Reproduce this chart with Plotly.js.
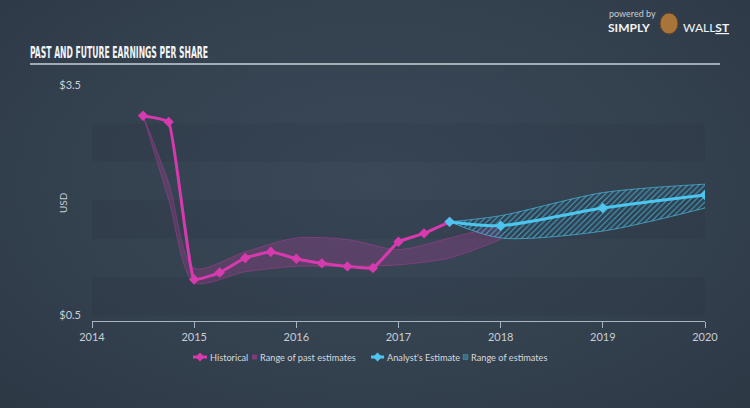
<!DOCTYPE html>
<html>
<head>
<meta charset="utf-8">
<script src="https://cdn.plot.ly/plotly-3.0.1.min.js"></script>
<style>
html,body{margin:0;padding:0;width:750px;height:408px;overflow:hidden;
background:radial-gradient(ellipse at 50% 45%, #3a4858 0%, #34414f 55%, #2d3845 100%);}
#chart{width:750px;height:408px;}
</style>
</head>
<body>
<div id="chart"></div>
<script>
// ---- data ----
const histX = [2014.5, 2014.75, 2015.0, 2015.25, 2015.5, 2015.75, 2016.0, 2016.25, 2016.5, 2016.75, 2017.0, 2017.25, 2017.5];
const histY = [3.10, 3.02, 0.97, 1.06, 1.25, 1.33, 1.24, 1.18, 1.14, 1.12, 1.46, 1.57, 1.72];

const pastRangeX = [2014.5, 2014.75, 2015.0, 2015.5, 2016.0, 2016.5, 2017.0, 2017.5, 2018.0];
const pastRangeHigh = [3.10, 2.23, 1.12, 1.33, 1.51, 1.49, 1.36, 1.51, 1.68];
const pastRangeLow  = [3.10, 2.01, 0.93, 1.07, 1.14, 1.14, 1.16, 1.25, 1.49];

const estX = [2017.5, 2018.0, 2019.0, 2020.0];
const estY = [1.72, 1.67, 1.90, 2.07];
const estHigh = [1.72, 1.80, 2.10, 2.21];
const estLow  = [1.72, 1.51, 1.60, 1.90];

const xTicks = [2014, 2015, 2016, 2017, 2018, 2019, 2020];
const yTickVals = [0.5, 3.5];
const yTickText = ['$0.5', '$3.5'];
const stripeBands = [[2.5, 3.0], [1.5, 2.0], [0.5, 1.0]];
const legendLabels = ['Historical', 'Range of past estimates', "Analyst's Estimate", 'Range of estimates'];

const pink = '#d63aae';
const cyan = '#4cc6ee';

const traces = [
  {x: pastRangeX, y: pastRangeLow, mode: 'lines', line: {color: 'rgba(214,58,174,0.45)', width: 0.8, shape: 'spline', smoothing: 0.8},
   showlegend: false, hoverinfo: 'skip'},
  {x: pastRangeX, y: pastRangeHigh, mode: 'lines', line: {color: 'rgba(214,58,174,0.45)', width: 0.8, shape: 'spline', smoothing: 0.8},
   fill: 'tonexty', fillcolor: 'rgba(214,58,174,0.22)', showlegend: false},
  {x: estX, y: estLow, mode: 'lines', line: {color: 'rgba(76,198,238,0.8)', width: 0.8, shape: 'spline', smoothing: 0.8},
   showlegend: false, hoverinfo: 'skip'},
  {x: estX, y: estHigh, mode: 'lines', line: {color: 'rgba(76,198,238,0.8)', width: 0.8, shape: 'spline', smoothing: 0.8},
   fill: 'tonexty', fillcolor: 'rgba(76,198,238,0.15)',
   fillpattern: {shape: '/', fgcolor: 'rgba(76,198,238,0.75)', bgcolor: 'rgba(40,70,90,0.25)', size: 4, solidity: 0.25},
   showlegend: false},
  {x: histX, y: histY, mode: 'lines+markers', name: legendLabels[0], showlegend: false,
   line: {color: pink, width: 3, shape: 'spline', smoothing: 0.3},
   marker: {symbol: 'diamond', size: 8, color: pink}},
  {x: estX, y: estY, mode: 'lines+markers', name: legendLabels[2], showlegend: false,
   line: {color: cyan, width: 3, shape: 'spline', smoothing: 0.8},
   marker: {symbol: 'diamond', size: 8, color: cyan}}
];

const plotL = 92, plotR = 705, plotT = 85, plotB = 321;
const pw = plotR - plotL, ph = plotB - plotT;
const px = v => (v - plotL) / pw;
const py = v => (plotB - v) / ph;

const shapes = stripeBands.map(b => ({
  type: 'rect', xref: 'x', yref: 'y', x0: xTicks[0], x1: xTicks[xTicks.length - 1], y0: b[0], y1: b[1],
  fillcolor: 'rgba(20,28,38,0.08)', line: {width: 0}, layer: 'below'
}));
shapes.push({type: 'line', xref: 'paper', yref: 'paper', x0: px(30), x1: px(720), y0: py(64), y1: py(64),
  line: {color: '#c9d0d8', width: 1.5}});
// logo head
shapes.push({type: 'circle', xref: 'paper', yref: 'paper', x0: px(660), x1: px(678), y0: py(34), y1: py(13),
  fillcolor: '#a8743a', line: {color: '#5e4128', width: 1}});

// custom legend (icons)
const legY = 357;
function diamond(cx, cy, r, color) {
  return {type: 'path', xref: 'paper', yref: 'paper',
    path: `M ${px(cx - r)} ${py(cy)} L ${px(cx)} ${py(cy - r)} L ${px(cx + r)} ${py(cy)} L ${px(cx)} ${py(cy + r)} Z`,
    fillcolor: color, line: {width: 0}};
}
shapes.push({type: 'line', xref: 'paper', yref: 'paper', x0: px(193), x1: px(207), y0: py(legY), y1: py(legY), line: {color: pink, width: 3}});
shapes.push(diamond(200, legY, 4.5, pink));
shapes.push({type: 'rect', xref: 'paper', yref: 'paper', x0: px(252), x1: px(257), y0: py(legY + 2.5), y1: py(legY - 2.5),
  fillcolor: 'rgba(214,58,174,0.45)', line: {width: 0}});
shapes.push({type: 'line', xref: 'paper', yref: 'paper', x0: px(371), x1: px(384), y0: py(legY), y1: py(legY), line: {color: cyan, width: 3}});
shapes.push(diamond(377.5, legY, 4.5, cyan));
shapes.push({type: 'rect', xref: 'paper', yref: 'paper', x0: px(463), x1: px(468), y0: py(legY + 2.5), y1: py(legY - 2.5),
  fillcolor: 'rgba(76,198,238,0.35)', line: {color: 'rgba(76,198,238,0.6)', width: 0.5}});

const legFont = {size: 9.2, color: '#d3d8de', family: 'Lato, "Open Sans", sans-serif'};
const legendAnn = [[209, legendLabels[0]], [259, legendLabels[1]], [386, legendLabels[2]], [470, legendLabels[3]]].map(p => ({
  text: p[1], xref: 'paper', yref: 'paper', x: px(p[0]), y: py(legY), xanchor: 'left', yanchor: 'middle',
  showarrow: false, font: legFont, xshift: -1
}));

const layout = {
  width: 750, height: 408,
  paper_bgcolor: 'rgba(0,0,0,0)', plot_bgcolor: 'rgba(0,0,0,0)',
  margin: {l: plotL, r: 750 - plotR, t: plotT, b: 408 - plotB},
  font: {family: 'Lato, "Open Sans", sans-serif', color: '#c8ced6', size: 11},
  showlegend: false,
  xaxis: {range: [2014, 2020], tickvals: xTicks, ticktext: xTicks.map(String), showgrid: false, zeroline: false,
    showline: true, linecolor: '#aab4bf', linewidth: 1, ticks: 'outside', ticklen: 6, tickcolor: '#aab4bf',
    tickfont: {size: 11, color: '#c8ced6'}, fixedrange: true},
  yaxis: {range: [0.43, 3.5], tickvals: yTickVals, ticktext: yTickText, showgrid: false, zeroline: false,
    showline: false, ticks: '', ticklabelstandoff: 10, tickfont: {size: 11, color: '#c8ced6'}, fixedrange: true},
  shapes: shapes,
  annotations: [
    {text: '<b>PAST AND FUTURE EARNINGS PER SHARE</b>', xref: 'paper', yref: 'paper', x: px(30), y: py(53),
     xanchor: 'left', yanchor: 'middle', showarrow: false, name: 'title',
     font: {family: '"DejaVu Sans Condensed", "Liberation Sans Narrow", sans-serif', size: 15, color: '#f2f4f6'}},
    {text: 'USD', xref: 'paper', yref: 'paper', x: px(63), y: py(203), xanchor: 'center', yanchor: 'middle',
     textangle: -90, showarrow: false, font: {size: 10, color: '#c8ced6'}},
    {text: 'powered by', xref: 'paper', yref: 'paper', x: px(607), y: py(14), xanchor: 'left', yanchor: 'middle',
     showarrow: false, font: {size: 9, color: '#c8ced6'}},
    {text: '<b>SIMPLY</b>', xref: 'paper', yref: 'paper', x: px(606), y: py(27), xanchor: 'left', yanchor: 'middle',
     showarrow: false, font: {size: 12, color: '#f2f4f6'}},
    {text: 'WALL<b><u>ST</u></b>', xref: 'paper', yref: 'paper', x: px(681), y: py(27), xanchor: 'left', yanchor: 'middle',
     showarrow: false, font: {size: 12, color: '#f2f4f6'}}
  ].concat(legendAnn)
};

Plotly.newPlot('chart', traces, layout, {displayModeBar: false, staticPlot: true}).then(gd => {
  // squeeze the condensed title to the reference width, keeping its left edge at x=30
  const t = gd.querySelector('.annotation[data-index="0"] text.annotation-text');
  if (t) {
    const ctm = t.getCTM();
    const leftLocal = (30 - ctm.e) / ctm.a;
    t.setAttribute('text-anchor', 'start');
    t.setAttribute('x', String(leftLocal));
    t.setAttribute('textLength', '178');
    t.setAttribute('lengthAdjust', 'spacingAndGlyphs');
  }
});
</script>
</body>
</html>
